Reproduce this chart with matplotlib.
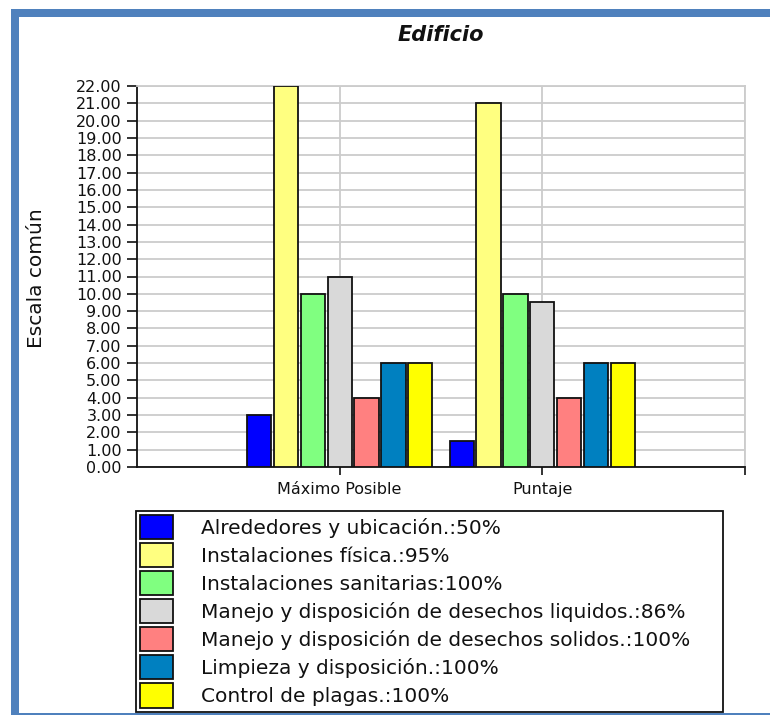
import matplotlib
matplotlib.use("Agg")
import matplotlib.pyplot as plt
import numpy as np
from matplotlib.patches import Rectangle

plt.rcParams['font.family'] = ['DejaVu Sans']

categories = ["Máximo Posible", "Puntaje"]
series = [
    "Alrededores y ubicación.:50%",
    "Instalaciones física.:95%",
    "Instalaciones sanitarias:100%",
    "Manejo y disposición de desechos liquidos.:86%",
    "Manejo y disposición de desechos solidos.:100%",
    "Limpieza y disposición.:100%",
    "Control de plagas.:100%",
]
maximo = [3.0, 22.0, 10.0, 11.0, 4.0, 6.0, 6.0]
puntaje = [1.5, 21.0, 10.0, 9.5, 4.0, 6.0, 6.0]
colors = ["#0000FF", "#FFFF80", "#80FF80", "#D9D9D9", "#FF8080", "#0080C0", "#FFFF00"]
y_ticks = list(range(0, 23))

W, H = 770, 715
fig = plt.figure(figsize=(W / 100, H / 100), dpi=100)
fig.patch.set_facecolor("white")

# blue frame around the chart
frame_col = "#4F81BD"
for (x0, y0, x1, y1) in [(11, 9, 770, 17), (11, 9, 19, 715), (11, 713, 770, 715)]:
    fig.patches.append(Rectangle((x0 / W, 1 - y1 / H), (x1 - x0) / W, (y1 - y0) / H,
                                 transform=fig.transFigure, facecolor=frame_col,
                                 edgecolor="none", zorder=0))

ax = fig.add_axes([137 / W, 1 - 467 / H, (745 - 137) / W, (467 - 86) / H])

values = np.array([maximo, puntaje])  # shape (categories, series)
cat_pos = np.arange(1, len(categories) + 1)
slot = 0.1325
width = 0.12
for i, (name, col) in enumerate(zip(series, colors)):
    ax.bar(cat_pos + (i - 3) * slot, values[:, i], width=width, color=col,
           edgecolor="#111111", linewidth=1.3, label=name, zorder=3)

ax.set_xlim(0, 3)
ax.set_ylim(0, 22)
ax.set_yticks(y_ticks)
ax.set_yticklabels([f"{v:.2f}" for v in y_ticks])
ax.set_xticks([1, 2, 3])
ax.set_xticklabels(categories + [""])

ax.grid(True, color="#CCCCCC", linewidth=1.3, zorder=0)
ax.set_axisbelow(True)
for s in ["top", "right"]:
    ax.spines[s].set_color("#CCCCCC")
    ax.spines[s].set_linewidth(1.3)
for s in ["left", "bottom"]:
    ax.spines[s].set_color("#111111")
    ax.spines[s].set_linewidth(1.3)

ax.tick_params(axis="y", direction="out", length=7, width=1.2, pad=4,
               labelsize=11.5, colors="#111111")
ax.tick_params(axis="x", direction="out", length=6, width=1.2, pad=5,
               labelsize=11.5, colors="#111111")

fig.text(441 / W, 1 - 35 / H, "Edificio", ha="center", va="center",
         fontsize=15, fontweight="bold", fontstyle="italic", color="#111111")
fig.text(37 / W, 1 - 278 / H, "Escala común", ha="center", va="center",
         rotation=90, fontsize=14.5, color="#111111")

fs = 14.5
leg = fig.legend(loc="upper left",
                 bbox_to_anchor=(136 / W, 0, (723 - 136) / W, 1 - 511 / H),
                 mode="expand", borderaxespad=0, fontsize=fs, frameon=True,
                 fancybox=False, shadow=False, framealpha=1,
                 handlelength=1.64, handleheight=1.46, handletextpad=1.39,
                 labelspacing=0.2, borderpad=0.2)
leg.get_frame().set_edgecolor("#111111")
leg.get_frame().set_linewidth(1.3)
for t in leg.get_texts():
    t.set_color("#111111")

fig.savefig("out.png", dpi=100)
